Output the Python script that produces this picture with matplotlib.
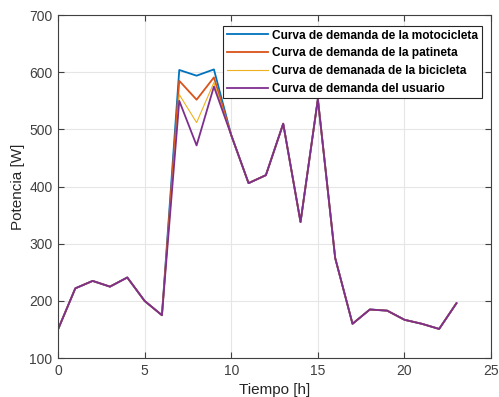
import matplotlib.pyplot as plt

hours = list(range(24))
moto = [150, 222, 235, 225, 241, 200, 175, 604, 594, 605, 490, 406, 420, 510, 338, 553,
        275, 160, 185, 183, 167, 160, 151, 196]
patineta = [150, 222, 235, 225, 241, 200, 175, 585, 552, 591, 490, 406, 420, 510, 338, 553,
            275, 160, 185, 183, 167, 160, 151, 196]
bici = [150, 222, 235, 225, 241, 200, 175, 561, 512, 582, 490, 406, 420, 510, 338, 553,
        275, 160, 185, 183, 167, 160, 151, 196]
usuario = [150, 222, 235, 225, 241, 200, 175, 550, 472, 575, 490, 406, 420, 510, 338, 553,
           275, 160, 185, 183, 167, 160, 151, 196]

labels = [
    "Curva de demanda de la motocicleta",
    "Curva de demanda de la patineta",
    "Curva de demanada de la bicicleta",
    "Curva de demanda del usuario",
]

plt.rcParams["font.family"] = ["Liberation Sans", "DejaVu Sans"]

fig = plt.figure(figsize=(4.99, 3.97), dpi=100)
ax = fig.add_axes([0.1162, 0.098, 0.868, 0.864])

ax.plot(hours, moto, color="#0072BD", lw=1.3, label=labels[0])
ax.plot(hours, patineta, color="#D95319", lw=1.3, label=labels[1])
ax.plot(hours, bici, color="#EDB120", lw=0.8, label=labels[2])
ax.plot(hours, usuario, color="#7E2F8E", lw=1.3, label=labels[3])

ax.set_xlim(0, 25)
ax.set_ylim(100, 700)
ax.set_xticks(range(0, 26, 5))
ax.set_yticks(range(100, 701, 100))
ax.grid(True, color="#e6e6e6", lw=0.8)
ax.set_axisbelow(True)
ax.tick_params(direction="in", top=True, right=True, labelsize=10,
               colors="#404040", length=4, pad=4)
for s in ax.spines.values():
    s.set_color("#404040")
    s.set_linewidth(0.8)

ax.set_xlabel("Tiempo [h]", fontsize=11, color="#262626", labelpad=4)
ax.set_ylabel("Potencia [W]", fontsize=11, color="#262626", labelpad=3)

leg = ax.legend(loc="upper right", bbox_to_anchor=(0.979, 0.968),
                prop={"weight": "bold", "size": 8.6},
                fancybox=False, framealpha=1, edgecolor="#262626",
                handlelength=3.4, borderpad=0.3, labelspacing=0.48,
                handletextpad=0.4, borderaxespad=0, handleheight=0.7)
leg.get_frame().set_linewidth(0.8)

fig.savefig("out.png", dpi=100)
